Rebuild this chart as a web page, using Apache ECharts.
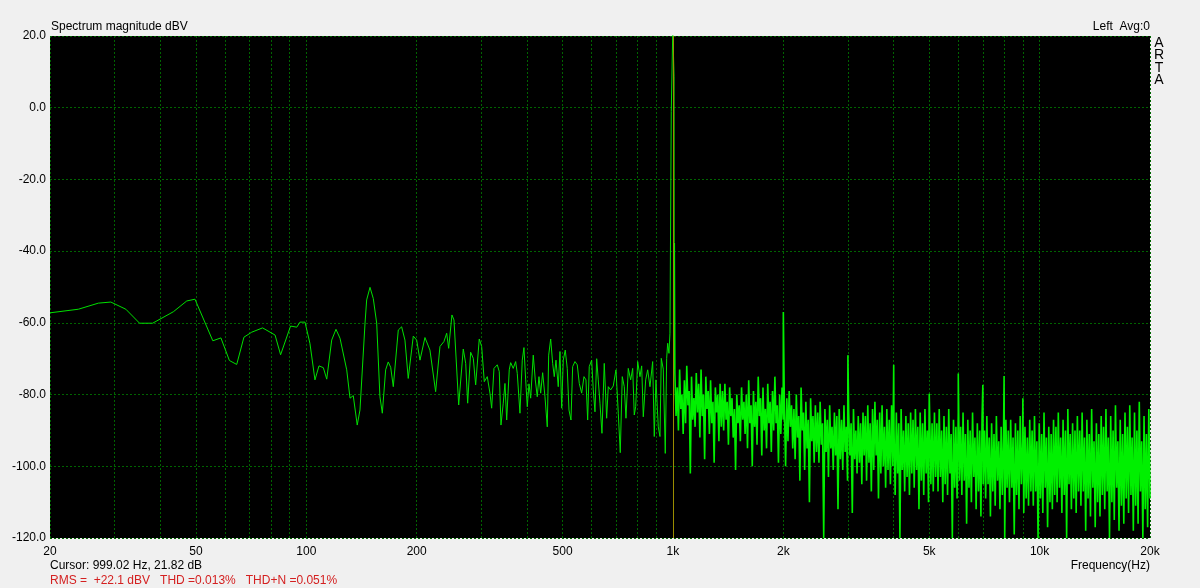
<!DOCTYPE html>
<html>
<head>
<meta charset="utf-8">
<script src="https://cdn.jsdelivr.net/npm/echarts@6/dist/echarts.min.js"></script>
<style>
html,body{margin:0;padding:0;background:#f0f0f0;}
#chart{width:1200px;height:588px;}
</style>
</head>
<body>
<div id="chart"></div>
<script>
// ---- Data ----
// Resolved low/mid-frequency part of the spectrum (Hz, dBV)
const lowFreq = [20.0,23.9,27.1,29.3,32.2,35.1,38.1,43.4,47.2,49.7,55.6,58.5,61.7,64.6,67.6,71.0,76.0,82.2,85.1,90.6,94.2,96.1,99.2,
102.3,105.6,108.3,111.3,113.7,117.3,120.5,123.6,128.9,131.6,134.3,137.7,140.1,144.6,146.1,149.2,152.3,155.6,158.8,161.2,164.6,167.3,169.9,172.7,178.2,182.0,185.8,189.7,195.8,200.0,204.2,210.7,217.4,225.3,231.5,237.4,241.5,244.5,249.6,252.8,260.4,268.0,272.1,275.5,280.7,285.4,289.7,296.3,300.8,305.8,311.6,316.9,
320.3,325.0,331.8,336.0,339.6,344.5,348.2,352.0,357.7,360.9,366.8,372.4,376.2,382.6,388.2,392.3,396.6,400.6,404.9,409.2,415.9,421.2,426.5,431.1,435.7,441.2,447.7,454.2,458.2,464.0,469.8,474.6,479.7,486.6,491.9,497.2,502.2,508.5,514.9,520.5,527.1,532.7,540.5,548.3,555.3,563.7,571.9,579.1,585.3,591.2,600.2,606.3,612.8,619.4,625.6,632.3,640.3,649.6,659.5,666.2,676.3,687.4,699.2,709.4,718.3,727.4,736.6,744.5,755.3,766.8,776.5,784.3,791.3,801.3,812.9,821.7,830.0,842.6,853.2,865.6,880.4,889.3,898.8,911.9,921.7,929.3,941.0,952.9,961.3,967.4,975.3,981.4];
const lowDb = [-57.2,-56.2,-54.5,-54.2,-56.2,-60.1,-60.1,-56.9,-53.9,-53.4,-65.0,-64.2,-70.5,-71.6,-64.0,-62.6,-61.4,-63.4,-68.9,-60.9,-61.2,-59.8,-59.8,
-65.7,-75.9,-72.0,-72.5,-75.7,-64.8,-61.8,-64.3,-73.1,-81.0,-80.3,-88.5,-84.3,-60.1,-53.6,-50.1,-53.2,-60.1,-80.6,-85.2,-73.1,-70.9,-72.4,-77.8,-62.0,-61.1,-64.8,-75.5,-63.7,-64.8,-70.4,-64.1,-67.6,-79.2,-66.6,-65.2,-62.9,-67.1,-57.8,-59.2,-82.9,-67.3,-71.3,-82.4,-68.2,-69.9,-77.3,-64.5,-66.6,-76.4,-75.0,-79.6,
-83.8,-72.7,-71.7,-73.6,-88.5,-82.4,-76.9,-87.1,-73.1,-71.1,-72.7,-70.8,-74.1,-85.2,-70.4,-66.9,-75.9,-83.4,-77.0,-81.0,-69.0,-75.9,-80.6,-75.0,-79.6,-73.9,-80.6,-89.0,-69.0,-64.5,-71.3,-75.0,-70.4,-77.8,-68.0,-83.8,-70.4,-67.6,-72.7,-84.3,-87.1,-72.2,-70.8,-71.7,-76.9,-79.6,-75.0,-75.9,-87.1,-72.2,-70.4,-78.7,-84.8,-70.0,-75.9,-82.4,-90.8,-71.3,-86.6,-77.8,-78.7,-77.6,-73.1,-85.2,-96.2,-75.0,-77.8,-86.6,-72.7,-75.9,-72.7,-85.7,-83.4,-70.8,-75.0,-72.0,-86.2,-75.9,-73.1,-77.8,-70.8,-91.7,-75.9,-89.0,-91.7,-69.9,-72.9,-96.4,-69.9,-65.7,-68.5,-62.9];

// Fundamental (1 kHz test tone)
const peakFreq = [985.5, 989.4, 999.02, 1007.0, 1008.2];
const peakDb = [-62.8, -1.1, 21.82, 8.6, -37.7];

// Harmonic spikes
const harmonicFreq = [2000, 3000, 4000, 5000, 6000, 7000, 8000, 9000];
const harmonicDb = [-57.0, -69.0, -71.7, -79.8, -74.1, -77.3, -74.8, -81.0];

// Noise floor above the fundamental, read on an even log-frequency grid
const noiseStartHz = 1012;
const noiseEndHz = 20000;
const noiseDb = [
-74,-86,-78,-90,-73,-84,-80,-91,-76,-88,-72,-83,-79,-102,-75,-87,-81,-89,-74,-85,
-77,-92,-73,-86,-80,-98,-75,-84,-79,-91,-76,-88,-82,-99,-78,-85,-80,-93,-77,-89,
-79,-90,-77,-87,-82,-94,-78,-86,-81,-92,-84,-101,-80,-88,-83,-93,-78,-87,-82,-91,
-80,-95,-76,-88,-83,-100,-79,-89,-82,-94,-75,-86,-81,-97,-78,-90,-84,-95,-77,-88,
-82,-96,-79,-90,-75,-88,-83,-99,-80,-91,-78,-87,-84,-100,-81,-93,-79,-89,-83,-95,
-84,-98,-80,-92,-86,-104,-78,-90,-85,-101,-82,-95,-87,-110,-81,-93,-86,-99,-83,-96,
-85,-99,-82,-94,-88,-120,-84,-96,-87,-103,-83,-95,-89,-101,-85,-97,-86,-112,-84,-98,
-87,-101,-83,-96,-89,-104,-85,-97,-88,-113,-84,-98,-90,-102,-86,-99,-88,-105,-85,-97,
-86,-104,-83,-99,-88,-107,-84,-101,-82,-97,-87,-109,-85,-102,-83,-100,-89,-106,-84,-101,
-87,-105,-83,-100,-89,-108,-85,-102,-88,-120,-84,-101,-90,-107,-86,-103,-88,-108,-85,-102,
-87,-106,-84,-101,-89,-112,-85,-104,-88,-108,-84,-102,-90,-110,-86,-105,-88,-107,-85,-103,
-88,-107,-84,-103,-90,-110,-86,-105,-89,-108,-84,-102,-91,-120,-87,-106,-89,-109,-85,-104,
-89,-108,-85,-104,-91,-116,-87,-106,-90,-110,-85,-103,-92,-112,-88,-107,-90,-114,-86,-105,
-90,-109,-86,-105,-92,-114,-88,-107,-91,-111,-86,-104,-93,-112,-89,-108,-91,-120,-87,-106,
-90,-110,-87,-106,-92,-119,-88,-108,-90,-112,-86,-105,-93,-113,-89,-109,-92,-111,-87,-107,
-90,-111,-86,-107,-93,-120,-88,-109,-91,-113,-85,-106,-92,-117,-89,-110,-91,-112,-87,-108,
-89,-110,-85,-106,-92,-113,-87,-108,-90,-120,-84,-105,-91,-112,-88,-109,-90,-113,-86,-107,
-90,-111,-85,-107,-92,-118,-87,-109,-91,-114,-84,-106,-93,-117,-88,-110,-91,-114,-86,-108,
-89,-112,-84,-107,-92,-120,-86,-110,-90,-115,-83,-106,-93,-118,-87,-111,-91,-116,-85,-109,
-89,-113,-83,-108,-92,-118,-85,-111,-90,-116,-82,-107,-93,-120,-86,-112,-91,-117,-84,-109
];

// Cursor
const cursorHz = 999.02;

// Axis ticks
const gridHz = [20,30,40,50,60,70,80,90,100,200,300,400,500,600,700,800,900,1000,2000,3000,4000,5000,6000,7000,8000,9000,10000,20000];
const labelHz = [20,50,100,200,500,1000,2000,5000,10000,20000];
const yMin = -120, yMax = 20, yStep = 20;

// ---- Build series ----
const lowPts = [];
lowFreq.forEach((f, i) => lowPts.push([f, lowDb[i]]));
peakFreq.forEach((f, i) => lowPts.push([f, peakDb[i]]));
lowPts.sort((a, b) => a[0] - b[0]);

const highPts = [lowPts[lowPts.length - 1]];
harmonicFreq.forEach((f, i) => highPts.push([f, harmonicDb[i]]));
const n = noiseDb.length;
noiseDb.forEach((d, i) => {
  const f = noiseStartHz * Math.pow(noiseEndHz / noiseStartHz, i / (n - 1));
  highPts.push([f, d]);
});
highPts.sort((a, b) => a[0] - b[0]);

const toXY = p => [Math.log10(p[0]), p[1]];

const FONT = '"Liberation Sans", Arial, sans-serif';
const GRIDCOL = '#006400';

const chart = echarts.init(document.getElementById('chart'), null, {renderer: 'canvas'});
chart.setOption({
  animation: false,
  backgroundColor: '#f0f0f0',
  grid: {left: 50, right: 50, top: 36, bottom: 50, show: true, backgroundColor: '#000', borderWidth: 0},
  xAxis: {
    type: 'value',
    min: Math.log10(20),
    max: Math.log10(20000),
    axisLine: {show: false},
    axisTick: {show: false, customValues: gridHz.map(v => Math.log10(v))},
    axisLabel: {
      customValues: labelHz.map(v => Math.log10(v)),
      formatter: v => { const f = Math.round(Math.pow(10, v)); return f >= 1000 ? (f / 1000) + 'k' : String(f); },
      color: '#000', fontSize: 12, fontFamily: FONT, margin: 8
    },
    splitLine: {show: true, lineStyle: {color: GRIDCOL, type: [2, 2], width: 1}}
  },
  yAxis: {
    type: 'value',
    min: yMin, max: yMax, interval: yStep,
    axisLine: {show: false},
    axisTick: {show: false},
    axisLabel: {formatter: v => v.toFixed(1), color: '#000', fontSize: 12, fontFamily: FONT, margin: 4},
    splitLine: {show: true, lineStyle: {color: GRIDCOL, type: [2, 2], width: 1}}
  },
  series: [{
    type: 'line',
    data: lowPts.map(toXY),
    showSymbol: false,
    symbol: 'none',
    sampling: null,
    lineStyle: {color: '#00e000', width: 1},
    clip: true,
    z: 3,
    markLine: {
      silent: true,
      symbol: ['none', 'none'],
      label: {show: false},
      lineStyle: {color: '#9a8c00', type: 'solid', width: 1},
      data: [{xAxis: Math.log10(cursorHz)}]
    }
  }, {
    type: 'line',
    data: highPts.map(toXY),
    showSymbol: false,
    symbol: 'none',
    sampling: null,
    lineStyle: {color: '#00f000', width: 1.6},
    clip: true,
    z: 3
  }],
  graphic: [
    {type: 'text', x: 51, y: 27, style: {text: 'Spectrum magnitude dBV', font: '12px ' + FONT, fill: '#000', verticalAlign: 'middle'}},
    {type: 'text', x: 1150, y: 27, style: {text: 'Left  Avg:0', font: '12px ' + FONT, fill: '#000', align: 'right', verticalAlign: 'middle'}},
    {type: 'text', x: 1159, y: 43, style: {text: 'A', font: '14px ' + FONT, fill: '#000', align: 'center', verticalAlign: 'middle'}},
    {type: 'text', x: 1159, y: 55.5, style: {text: 'R', font: '14px ' + FONT, fill: '#000', align: 'center', verticalAlign: 'middle'}},
    {type: 'text', x: 1159, y: 68, style: {text: 'T', font: '14px ' + FONT, fill: '#000', align: 'center', verticalAlign: 'middle'}},
    {type: 'text', x: 1159, y: 80.5, style: {text: 'A', font: '14px ' + FONT, fill: '#000', align: 'center', verticalAlign: 'middle'}},
    {type: 'text', x: 1150, y: 566, style: {text: 'Frequency(Hz)', font: '12px ' + FONT, fill: '#000', align: 'right', verticalAlign: 'middle'}},
    {type: 'text', x: 50, y: 566, style: {text: 'Cursor: 999.02 Hz, 21.82 dB', font: '12px ' + FONT, fill: '#000', verticalAlign: 'middle'}},
    {type: 'text', x: 50, y: 581, style: {text: 'RMS =  +22.1 dBV   THD =0.013%   THD+N =0.051%', font: '12px ' + FONT, fill: '#d42020', verticalAlign: 'middle'}}
  ]
});
</script>
</body>
</html>
